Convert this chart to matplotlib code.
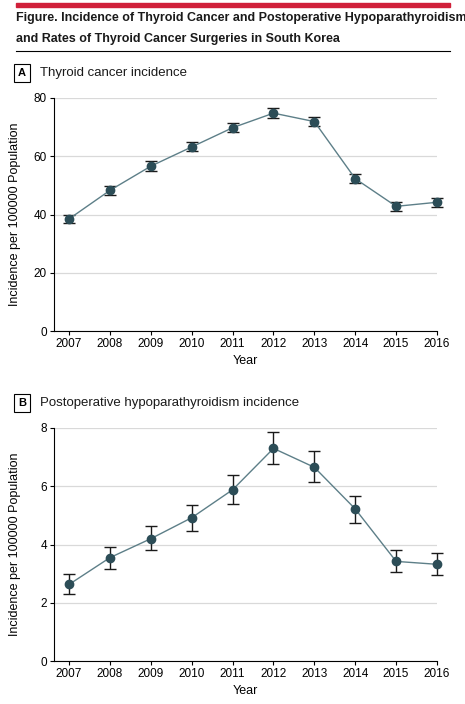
import matplotlib
matplotlib.use("Agg")
import matplotlib.pyplot as plt
from matplotlib.patches import Rectangle

plt.rcParams['font.family'] = ['Liberation Sans', 'DejaVu Sans']

years = [2007, 2008, 2009, 2010, 2011, 2012, 2013, 2014, 2015, 2016]

cancer = [38.5, 48.3, 56.6, 63.2, 69.8, 74.8, 71.9, 52.3, 42.8, 44.2]
cancer_lo = [37.0, 46.8, 55.0, 61.7, 68.3, 73.1, 70.3, 50.8, 41.3, 42.7]
cancer_hi = [40.0, 49.9, 58.2, 64.8, 71.4, 76.5, 73.5, 53.9, 44.4, 45.8]

hypo = [2.63, 3.55, 4.20, 4.92, 5.88, 7.30, 6.65, 5.22, 3.42, 3.32]
hypo_lo = [2.30, 3.15, 3.80, 4.45, 5.38, 6.78, 6.13, 4.75, 3.05, 2.95]
hypo_hi = [3.00, 3.90, 4.62, 5.35, 6.38, 7.85, 7.20, 5.68, 3.80, 3.70]

W, H = 465, 704
fig = plt.figure(figsize=(W / 100, H / 100), dpi=100)

# header
fig.patches.append(Rectangle((16 / W, 1 - 7 / H), 434 / W, 4 / H, transform=fig.transFigure,
                             color='#d0203a'))
fig.text(16 / W, 1 - 18 / H, "Figure. Incidence of Thyroid Cancer and Postoperative Hypoparathyroidism",
         fontsize=9.0, fontweight='bold', va='center', color='#1a1a1a')
fig.text(16 / W, 1 - 39 / H, "and Rates of Thyroid Cancer Surgeries in South Korea",
         fontsize=9.0, fontweight='bold', va='center', color='#1a1a1a')
fig.lines.append(plt.Line2D([16 / W, 450 / W], [1 - 51 / H, 1 - 51 / H], transform=fig.transFigure,
                            color='black', lw=0.8))


def panel(top, letter, title, y, lo, hi, ymax, ticks):
    ax = fig.add_axes([54 / W, 1 - (top + 233) / H, 383 / W, 233 / H])
    err = [[a - b for a, b in zip(y, lo)], [b - a for a, b in zip(y, hi)]]
    ax.errorbar(years, y, yerr=err, fmt='-o', color='#5d7f88', lw=1.0, ms=6,
                mfc='#2c4d57', mec='#2c4d57', ecolor='#1a1a1a', elinewidth=1.0,
                capsize=4, capthick=1.0, clip_on=False)
    ax.set_ylim(0, ymax)
    ax.set_xlim(2006.63, 2016.0)
    ax.set_yticks(ticks)
    ax.set_xticks(years)
    ax.grid(axis='y', color='#d9d9d9', lw=0.9)
    ax.set_axisbelow(True)
    for s in ['top', 'right']:
        ax.spines[s].set_visible(False)
    ax.tick_params(labelsize=8.5, length=3, pad=2)
    ax.set_xlabel("Year", fontsize=9)
    ax.set_ylabel("Incidence per 100000 Population", fontsize=9)
    ax.yaxis.set_label_coords(-0.085, 0.5)
    ty = 1 - (top - 25) / H
    fig.text(22 / W, ty, letter, fontsize=8, fontweight='bold', va='center', ha='center',
             bbox=dict(boxstyle='square,pad=0.35', fc='white', ec='black', lw=0.8))
    fig.text(40 / W, ty, title, fontsize=9.5, va='center', color='#1a1a1a')
    return ax


panel(98, "A", "Thyroid cancer incidence", cancer, cancer_lo, cancer_hi, 80, [0, 20, 40, 60, 80])
panel(428, "B", "Postoperative hypoparathyroidism incidence", hypo, hypo_lo, hypo_hi, 8, [0, 2, 4, 6, 8])

fig.savefig("out.png", dpi=100)
